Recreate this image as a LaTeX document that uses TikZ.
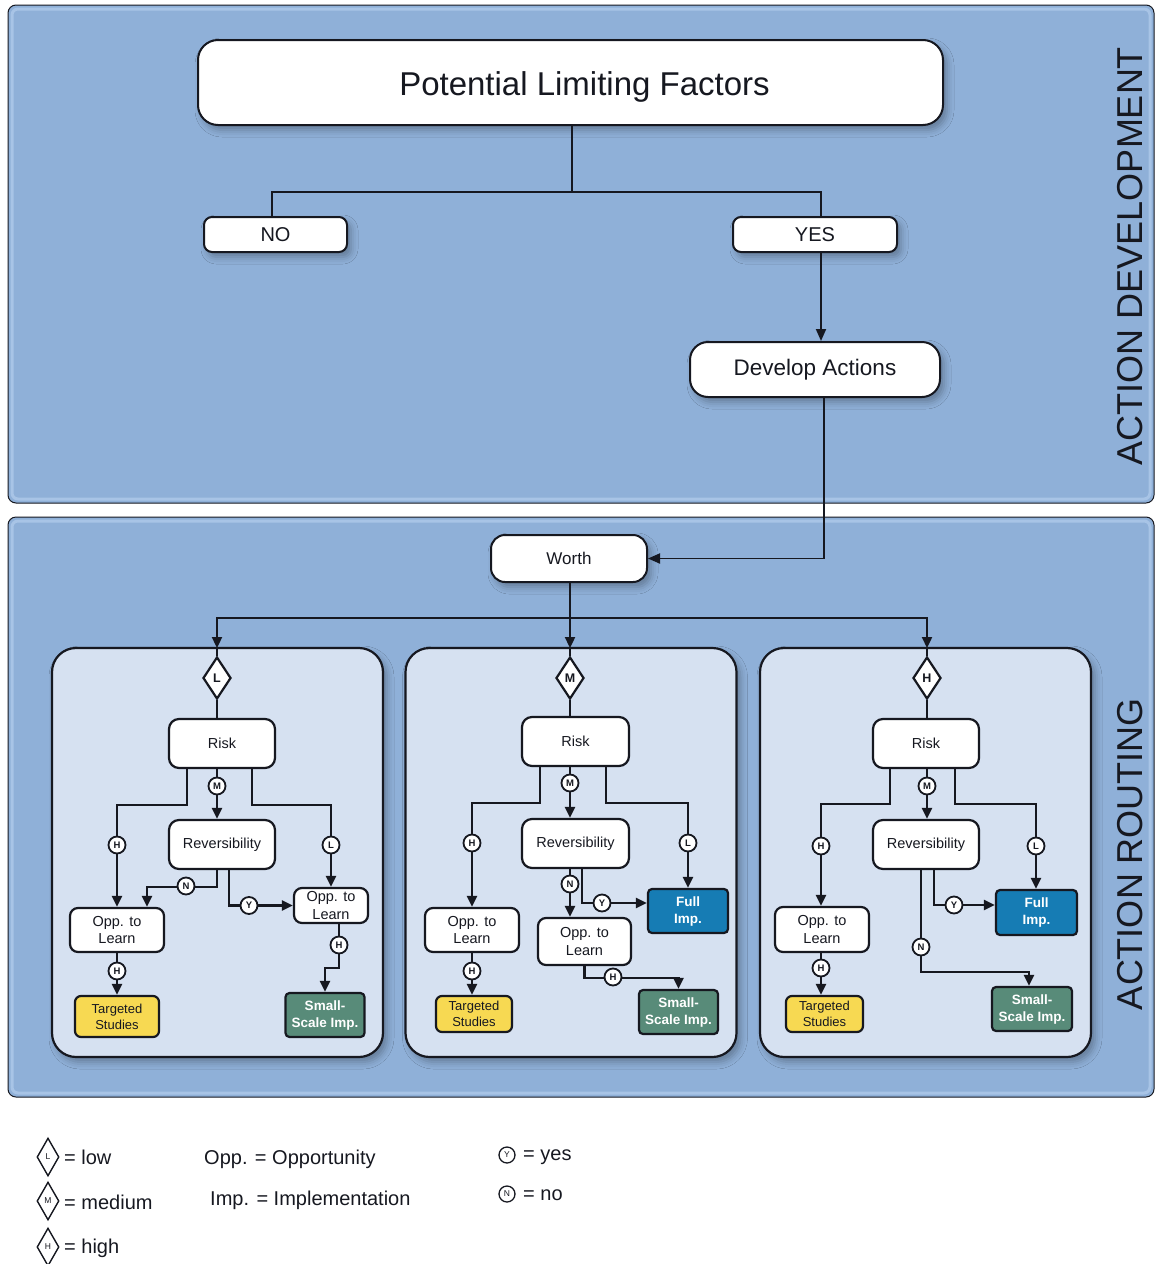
\documentclass[tikz,border=0pt]{standalone}
\usepackage{fontspec}
\setmainfont{Liberation Sans}
\usetikzlibrary{arrows.meta,shapes.geometric,shadows.blur}

\definecolor{ink}{RGB}{22,24,32}
\definecolor{panelblue}{RGB}{143,176,216}
\definecolor{bevel}{RGB}{168,196,230}
\definecolor{innerblue}{RGB}{214,225,241}
\definecolor{studyyellow}{RGB}{247,217,82}
\definecolor{smallgreen}{RGB}{88,139,121}
\definecolor{fullblue}{RGB}{22,124,180}

\begin{document}
\begin{tikzpicture}[x=1pt,y=-1pt,
  softshadow/.style={blur shadow={shadow xshift=4pt,shadow yshift=-5pt,shadow blur radius=7pt,shadow opacity=30}},
  box/.style={draw=ink,line width=2.2pt,fill=white,rounded corners=10pt,align=center,
    inner sep=0pt,text=ink,font=\fontsize{14.5}{17.5}\selectfont},
  topbox/.style={box,line width=2pt,softshadow},
  study/.style={box,fill=studyyellow,rounded corners=6pt,font=\fontsize{13}{16}\selectfont},
  smallimp/.style={box,fill=smallgreen,rounded corners=4pt,text=white,font=\bfseries\fontsize{13.5}{17}\selectfont},
  fullimp/.style={box,fill=fullblue,rounded corners=4pt,text=white,font=\bfseries\fontsize{13.5}{17}\selectfont},
  panel/.style={draw=ink,line width=2.2pt,fill=innerblue,rounded corners=24pt,
    minimum width=331pt,minimum height=409pt,inner sep=0pt,softshadow},
  tag/.style={circle,draw=ink,fill=white,line width=1.8pt,inner sep=0pt,minimum size=17pt,
    text=ink,font=\bfseries\fontsize{9.5}{9.5}\selectfont},
  dia/.style={diamond,draw=ink,fill=white,line width=2.2pt,inner sep=0pt,
    minimum width=28pt,minimum height=42pt,text=ink,font=\bfseries\fontsize{12.5}{12.5}\selectfont},
  legdia/.style={diamond,draw=ink,fill=white,line width=1.4pt,inner sep=0pt,
    minimum width=22pt,minimum height=38pt,text=ink,font=\fontsize{8.5}{8.5}\selectfont},
  legtag/.style={circle,draw=ink,fill=white,line width=1.3pt,inner sep=0pt,minimum size=16pt,
    text=ink,font=\fontsize{8.5}{8.5}\selectfont},
  legtext/.style={anchor=west,inner sep=0pt,text=ink,font=\fontsize{20}{24}\selectfont},
  wire/.style={draw=ink,line width=2.3pt},
  arr/.style={wire,-{Triangle[length=11pt,width=10pt]}},
  topwire/.style={draw=ink,line width=1.9pt},
  toparr/.style={topwire,-{Triangle[length=12pt,width=10pt]}},
  side/.style={rotate=90,inner sep=0pt,text=ink,font=\fontsize{36}{36}\selectfont}]

\useasboundingbox (0,0) rectangle (1156,1264);

% ---------- background bands ----------
\fill[panelblue,draw=ink,line width=1pt,rounded corners=8pt] (8,5) rectangle (1154,503);
\draw[bevel,line width=3pt,rounded corners=6pt] (12,9) rectangle (1150,499);
\fill[panelblue,draw=ink,line width=1pt,rounded corners=8pt] (8,517) rectangle (1154,1097);
\draw[bevel,line width=3pt,rounded corners=6pt] (12,521) rectangle (1150,1093);

\node[side] (sideDev) at (1130,256) {ACTION DEVELOPMENT};
\node[side] (sideRout) at (1130,854) {ACTION ROUTING};

% ---------- action development ----------
\node[topbox,rounded corners=20pt,minimum width=745pt,minimum height=85pt,
  label={[xshift=14pt,yshift=-4pt,text=ink,font=\fontsize{33}{40}\selectfont]center:Potential Limiting Factors}]
  (plf) at (570.5,82.5) {};
\node[topbox,rounded corners=8pt,minimum width=143pt,minimum height=35pt,font=\fontsize{20}{24}\selectfont]
  (noB) at (275.5,234.5) {NO};
\node[topbox,rounded corners=8pt,minimum width=164pt,minimum height=35pt,font=\fontsize{20}{24}\selectfont]
  (yesB) at (815,234.5) {YES};
\node[topbox,rounded corners=18pt,minimum width=250pt,minimum height=55pt,font=\fontsize{22.5}{27}\selectfont]
  (dev) at (815,369.5) {Develop Actions};
\node[topbox,rounded corners=14pt,minimum width=156pt,minimum height=47pt,font=\fontsize{17}{20}\selectfont]
  (worth) at (569,558.5) {Worth};

\coordinate (fork) at (572,192);
\draw[topwire] (plf.south -| fork) -- (fork);
\draw[topwire] ([xshift=-3.5pt]noB.north) |- (fork) -| ([xshift=6pt]yesB.north);
\draw[toparr] ([xshift=6pt]yesB.south) -- ([xshift=6pt]dev.north);
\draw[toparr] ([xshift=9pt]dev.south) |- (worth.east);

% ---------- routing panels ----------
\node[panel] (panL) at (217.5,852.5) {};
\node[panel] (panM) at (571,852.5) {};
\node[panel] (panH) at (925.5,852.5) {};

\coordinate (wfork) at (570,618);
\draw[topwire] (worth.south -| wfork) -- (wfork);
\draw[arr] (wfork) -| (217,648);
\draw[arr] (wfork) -- (570,648);
\draw[arr] (wfork) -| (927,648);

% ===== low worth =====
\node[dia] (dL) at (217,678) {L};
\node[box,minimum width=106pt,minimum height=49pt] (riskL) at (222,743.5) {Risk};
\node[box,minimum width=106pt,minimum height=49pt] (revL) at (222,844.5) {Reversibility};
\node[box,rounded corners=8pt,minimum width=94pt,minimum height=44pt] (oppLa) at (117,930) {Opp. to\\Learn};
\node[box,rounded corners=8pt,minimum width=74pt,minimum height=35pt] (oppLb) at (331,905.5) {Opp. to\\Learn};
\node[study,minimum width=84pt,minimum height=41pt] (tsL) at (117,1016.5) {Targeted\\Studies};
\node[smallimp,minimum width=79pt,minimum height=44pt] (ssL) at (325,1015) {Small-\\Scale Imp.};

\draw[wire] (217,648) -- (dL.north);
\draw[wire] (dL.south) -- (dL.south |- riskL.north);
\draw[arr] ([xshift=-35pt]riskL.south) -- ++(0,36) -| (oppLa.north);
\draw[arr] ([xshift=-5pt]riskL.south) -- ([xshift=-5pt]revL.north);
\draw[arr] ([xshift=30pt]riskL.south) -- ++(0,36) -| (oppLb.north);
\draw[arr] ([xshift=-5pt]revL.south) -- ++(0,17) -| ([xshift=30pt]oppLa.north);
\draw[arr] ([xshift=7pt]revL.south) |- (oppLb.west);
\draw[arr] (oppLa.south) -- (tsL.north);
\draw[arr] ([xshift=8pt]oppLb.south) -- ++(0,44) -| (ssL.north);

\node[tag] (tL1) at (117,845) {H};
\node[tag] (tL2) at (217,786) {M};
\node[tag] (tL3) at (331,845) {L};
\node[tag] (tL4) at (186,886) {N};
\node[tag] (tL5) at (249,905.5) {Y};
\node[tag] (tL6) at (117,971) {H};
\node[tag] (tL7) at (339,945) {H};

% ===== medium worth =====
\node[dia] (dM) at (570,678) {M};
\node[box,minimum width=107pt,minimum height=49pt] (riskM) at (575.5,741.5) {Risk};
\node[box,minimum width=107pt,minimum height=49pt] (revM) at (575.5,843.5) {Reversibility};
\node[box,rounded corners=8pt,minimum width=94pt,minimum height=44pt] (oppMa) at (472,930) {Opp. to\\Learn};
\node[box,rounded corners=8pt,minimum width=93pt,minimum height=47pt] (oppMb) at (584.5,941.5) {Opp. to\\Learn};
\node[fullimp,minimum width=80pt,minimum height=44pt] (fullM) at (688,911) {Full\\Imp.};
\node[study,minimum width=76pt,minimum height=36pt] (tsM) at (474,1014) {Targeted\\Studies};
\node[smallimp,minimum width=79pt,minimum height=44pt] (ssM) at (678.5,1012) {Small-\\Scale Imp.};

\draw[wire] (570,648) -- (dM.north);
\draw[wire] (dM.south) -- (dM.south |- riskM.north);
\draw[arr] ([xshift=-35.5pt]riskM.south) -- ++(0,36) -| (oppMa.north);
\draw[arr] ([xshift=-5.5pt]riskM.south) -- ([xshift=-5.5pt]revM.north);
\draw[arr] ([xshift=30.5pt]riskM.south) -- ++(0,36) -| (fullM.north);
\draw[arr] ([xshift=-5.5pt]revM.south) -- ([xshift=-14.5pt]oppMb.north);
\draw[arr] ([xshift=6.5pt]revM.south) |- ([yshift=8pt]fullM.west);
\draw[arr] (oppMa.south) -- (oppMa.south |- tsM.north);
\draw[arr] (oppMb.south) -- ++(0,12) -| (ssM.north);

\node[tag] (tM1) at (472,843) {H};
\node[tag] (tM2) at (570,783) {M};
\node[tag] (tM3) at (688,843) {L};
\node[tag] (tM4) at (570,884) {N};
\node[tag] (tM5) at (602,903) {Y};
\node[tag] (tM6) at (472,971) {H};
\node[tag] (tM7) at (613,977) {H};

% ===== high worth =====
\node[dia] (dH) at (927,678) {H};
\node[box,minimum width=106pt,minimum height=49pt] (riskH) at (926,743.5) {Risk};
\node[box,minimum width=106pt,minimum height=49pt] (revH) at (926,844.5) {Reversibility};
\node[box,rounded corners=8pt,minimum width=94pt,minimum height=45pt] (oppH) at (822,929.5) {Opp. to\\Learn};
\node[fullimp,minimum width=81pt,minimum height=45pt] (fullH) at (1036.5,912.5) {Full\\Imp.};
\node[study,minimum width=77pt,minimum height=36pt] (tsH) at (824.5,1014) {Targeted\\Studies};
\node[smallimp,minimum width=80pt,minimum height=44pt] (ssH) at (1032,1009) {Small-\\Scale Imp.};

\draw[wire] (927,648) -- (dH.north);
\draw[wire] (dH.south) -- (dH.south |- riskH.north);
\draw[arr] ([xshift=-36pt]riskH.south) -- ++(0,35) -| ([xshift=-1pt]oppH.north);
\draw[arr] ([xshift=1pt]riskH.south) -- ([xshift=1pt]revH.north);
\draw[arr] ([xshift=29pt]riskH.south) -- ++(0,35) -| ([xshift=-0.5pt]fullH.north);
\draw[arr] ([xshift=8pt]revH.south) |- ([yshift=7.5pt]fullH.west);
\draw[arr] ([xshift=-5pt]revH.south) -- ++(0,102) -| ([xshift=-3pt]ssH.north);
\draw[arr] ([xshift=-1pt]oppH.south) -- ([xshift=-1pt]oppH.south |- tsH.north);

\node[tag] (tH1) at (821,846) {H};
\node[tag] (tH2) at (927,786) {M};
\node[tag] (tH3) at (1036,846) {L};
\node[tag] (tH4) at (954,905) {Y};
\node[tag] (tH5) at (921,947) {N};
\node[tag] (tH6) at (821,968) {H};

% ---------- legend ----------
\node[legdia] (lgL) at (48,1157) {L};
\node[legtext] (lgLt) at (64,1157) {= low};
\node[legdia] (lgM) at (48,1201) {M};
\node[legtext] (lgMt) at (64,1202) {= medium};
\node[legdia] (lgH) at (48,1247) {H};
\node[legtext] (lgHt) at (64,1248) {= high};
\node[legtext] (lgOpp) at (204,1159) {Opp. = Opportunity};
\node[legtext] (lgImp) at (210,1200) {Imp. = Implementation};
\node[legtag] (lgY) at (507,1155) {Y};
\node[legtext] (lgYt) at (523,1157) {= yes};
\node[legtag] (lgN) at (507,1194) {N};
\node[legtext] (lgNt) at (523,1195) {= no};

\end{tikzpicture}
\end{document}
